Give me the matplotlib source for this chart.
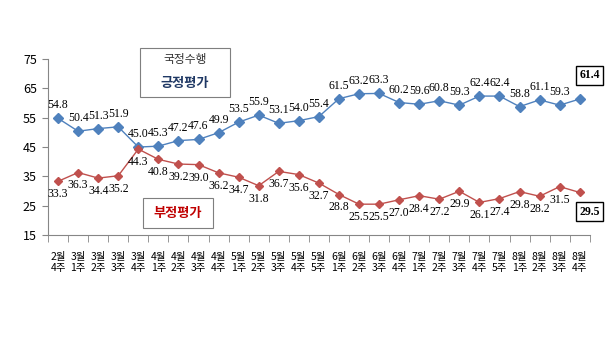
import matplotlib.pyplot as plt
import numpy as np
import matplotlib as mpl

mpl.rcParams['font.family'] = ['Noto Sans CJK KR', 'DejaVu Sans']

# 데이터
weeks = ['2월\n4주', '3월\n1주', '3월\n2주', '3월\n3주', '3월\n4주', '4월\n1주', '4월\n2주',
         '4월\n3주', '4월\n4주', '5월\n1주', '5월\n2주', '5월\n3주', '5월\n4주', '5월\n5주',
         '6월\n1주', '6월\n2주', '6월\n3주', '6월\n4주', '7월\n1주', '7월\n2주', '7월\n3주',
         '7월\n4주', '7월\n5주', '8월\n1주', '8월\n2주', '8월\n3주', '8월\n4주']
positive = [54.8, 50.4, 51.3, 51.9, 45.0, 45.3, 47.2, 47.6, 49.9, 53.5, 55.9, 53.1, 54.0, 55.4,
            61.5, 63.2, 63.3, 60.2, 59.6, 60.8, 59.3, 62.4, 62.4, 58.8, 61.1, 59.3, 61.4]
negative = [33.3, 36.3, 34.4, 35.2, 44.3, 40.8, 39.2, 39.0, 36.2, 34.7, 31.8, 36.7, 35.6, 32.7,
            28.8, 25.5, 25.5, 27.0, 28.4, 27.2, 29.9, 26.1, 27.4, 29.8, 28.2, 31.5, 29.5]

blue = '#4F81BD'
red = '#C0504D'

fig = plt.figure(figsize=(6.08, 3.4), dpi=100)
ax = fig.add_axes([0.079, 0.309, 0.891, 0.517])
x = np.arange(len(weeks))

ax.plot(x, positive, color=blue, lw=1, marker='D', ms=5, mec=blue)
ax.plot(x, negative, color=red, lw=1, marker='D', ms=4, mec=red)

# 데이터 레이블
serif = 'Liberation Serif'
for i in range(len(x) - 1):
    ax.annotate(f'{positive[i]:.1f}', (x[i], positive[i]), xytext=(0, 5),
                textcoords='offset points', ha='center', va='bottom', fontsize=8.5, family=serif)
    ax.annotate(f'{negative[i]:.1f}', (x[i], negative[i]), xytext=(0, -5),
                textcoords='offset points', ha='center', va='top', fontsize=8.5, family=serif)

box = dict(boxstyle='square,pad=0.3', fc='white', ec='black', lw=1)
ax.annotate(f'{positive[-1]:.1f}', (x[-1], positive[-1]), xytext=(7, 17),
            textcoords='offset points', ha='center', va='center', fontsize=8.5,
            family=serif, weight='bold', bbox=box)
ax.annotate(f'{negative[-1]:.1f}', (x[-1], negative[-1]), xytext=(7, -14),
            textcoords='offset points', ha='center', va='center', fontsize=8.5,
            family=serif, weight='bold', bbox=box)

# 설명 상자
fig.patches.append(plt.Rectangle((140 / 608, 1 - 97 / 340), 90 / 608, 49 / 340,
                                 transform=fig.transFigure, fc='white', ec='#7f7f7f', lw=0.8))
fig.text(185 / 608, 1 - 60 / 340, '국정수행', ha='center', va='center', fontsize=8.5, color='#333333')
fig.text(185 / 608, 1 - 83 / 340, '긍정평가', ha='center', va='center', fontsize=9.5,
         color='#1F3864', weight='bold')
fig.patches.append(plt.Rectangle((143 / 608, 1 - 228 / 340), 70 / 608, 30 / 340,
                                 transform=fig.transFigure, fc='white', ec='#7f7f7f', lw=0.8))
fig.text(178 / 608, 1 - 213 / 340, '부정평가', ha='center', va='center', fontsize=9.5,
         color='#C00000', weight='bold')

# 축
ax.set_ylim(15, 75)
ax.set_yticks([15, 25, 35, 45, 55, 65, 75])
ax.set_xlim(-0.5, len(weeks) - 0.5)
ax.set_xticks(x)
ax.set_xticklabels(weeks, fontsize=7.5, linespacing=1.15)
ax.set_xticks(np.arange(len(weeks) + 1) - 0.5, minor=True)
ax.tick_params(axis='x', which='major', length=0, pad=12)
ax.tick_params(axis='x', which='minor', length=5, color='#868686', direction='out')
ax.tick_params(axis='y', length=4, color='#868686', labelsize=9, pad=4)
for s in ['top', 'right']:
    ax.spines[s].set_visible(False)
for s in ['left', 'bottom']:
    ax.spines[s].set_color('#868686')

plt.savefig('out.png', dpi=100)
